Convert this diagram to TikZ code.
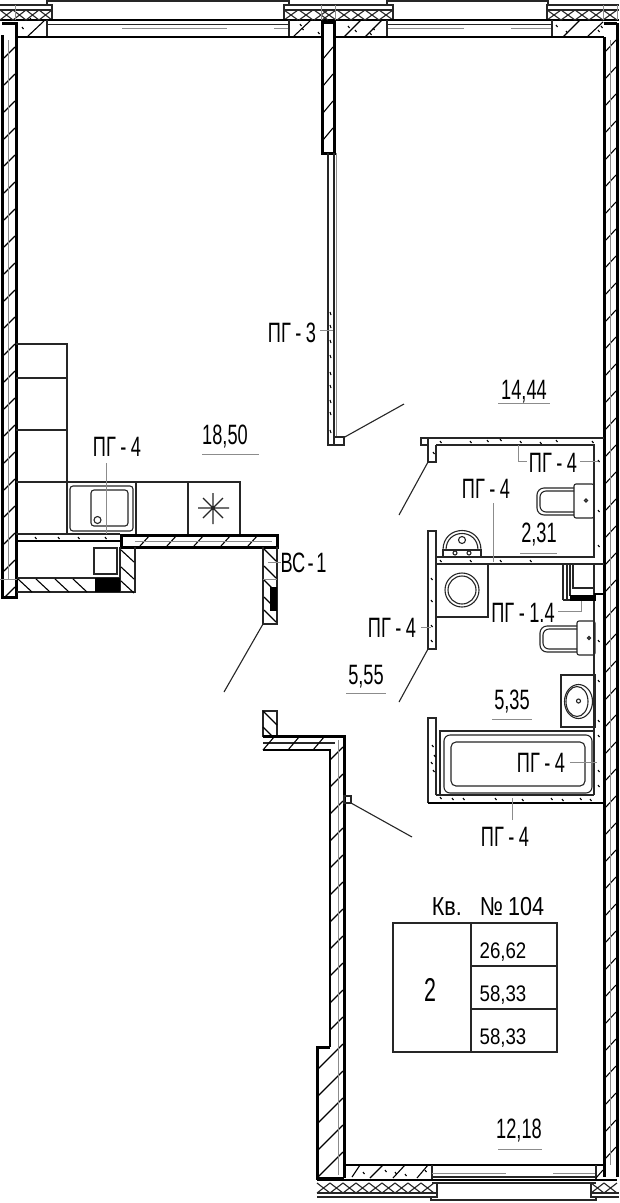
\documentclass[tikz,border=0pt]{standalone}
\usepackage{fontspec}
\setmainfont[FakeStretch=0.65]{Liberation Sans}
\newfontfamily\tablefont[FakeStretch=0.83]{Liberation Sans}
\tikzset{
    wallheavy/.style={draw=black,line width=3pt},
    wallmid/.style={draw=black,line width=1.5pt},
    wallthin/.style={draw=black!85,line width=1.1pt},
    hatchln/.style={draw=black,line width=1.1pt},
    leader/.style={draw=black!45,line width=0.9pt},
    txt/.style={font=\fontsize{28}{30}\selectfont,inner sep=0pt},
    txtsmall/.style={font=\tablefont\fontsize{22.5}{24}\selectfont,inner sep=0pt}
}
\newcommand{\PGdash}{\kern4.5pt-\kern4.5pt}
\begin{document}
\begin{tikzpicture}[x=1pt,y=-1pt]

    \useasboundingbox (0,0) rectangle (619,1203);
    \fill[white] (0,0) rectangle (619,1203);

    \draw[wallthin] (47,5) -- (47,1) -- (289,1) -- (289,5);
    \draw[wallthin] (0,5) -- (52,5) -- (52,20);
    \draw[wallthin] (284,20) -- (284,5) -- (393,5) -- (393,20);
    \draw[wallthin] (387,5) -- (387,1) -- (548,1) -- (548,5);
    \draw[wallthin] (547,20) -- (547,5) -- (619,5);
    \draw[wallthin] (0,10) -- (52,10) (284,10) -- (393,10) (547,10) -- (619,10);
    \draw[wallmid] (0,20) -- (52,20) (284,20) -- (393,20) (547,20) -- (619,20);
    \foreach \x in {0,13,26,39}
        \draw[wallthin] (\x,10) -- ++(13,10) (\x,20) -- ++(13,-10);
    \foreach \x in {284,299,314,322,337,351,365,379}
        \draw[wallthin] (\x,10) -- ++(14,10) (\x,20) -- ++(14,-10);
    \foreach \x in {547,561,575,589,603}
        \draw[wallthin] (\x,10) -- ++(14,10) (\x,20) -- ++(14,-10);
    \draw[leader] (15,5) -- (15,20) (321,5) -- (321,20) (335,5) -- (335,20) (603,5) -- (603,20) (617,5) -- (617,20);

    \draw[wallmid] (47,20) -- (289,20) (387,20) -- (552,20);
    \draw[wallthin] (47,24.5) -- (289,24.5) (387,24.5) -- (552,24.5);
    \draw[wallthin] (47,20) -- (47,37) (289,20) -- (289,37) (387,20) -- (387,37) (552,20) -- (552,37);
    \draw[leader] (122,28) -- (227,28) (274,28) -- (288,28) (388,28) -- (464,28) (511,28) -- (551,28);
    \draw[wallmid] (15,37) -- (321,37) (335,37) -- (604,37);
    \draw[hatchln] (27,37) -- (44,21) (293,37) -- (311,20) (344,37) -- (361,20) (365,37) -- (382,20) (563,37) -- (580,20) (587,37) -- (603,22);
    \foreach \x/\y in {22/27,30/18,300/24,302/28,318/32,355/30,348/26,370/33,373/28,556/25,566/31,601/26,598/30}
        \draw[hatchln] (\x,\y) -- ++(1.5,2);

    \draw[wallheavy] (2,35) -- (2,597) -- (16,597) -- (16,23) -- (2,23);
    \foreach \y in {47,74,...,590}
        \draw[hatchln] (4,\y+11) -- (15,\y);
    \draw[leader] (8,40) -- (8,580) (0,579) -- (17,579);

    \draw[wallheavy] (604,37) -- (604,1177) (617,23) -- (617,1177) (604,23) -- (617,23);
    \foreach \y in {40,67,...,1150}
        \draw[hatchln] (605,\y+12) -- (616,\y);
    \draw[leader] (610,40) -- (610,1165);

    \draw[wallheavy] (322,22) rectangle (334,153);
    \foreach \y in {47,74,101,128}
        \draw[hatchln] (323,\y+12) -- (333,\y);
    \draw[wallthin] (328,153) -- (328,445) -- (334,445) -- (334,153);
    \draw[leader] (336,153) -- (336,437);
    \draw[wallthin] (334,437) rectangle (344,445);
    \coordinate (doorAa) at (343,438);
    \coordinate (doorAb) at (404,404);
    \draw[wallthin] (doorAa) -- (doorAb);
    \foreach \y in {312,325,340,355,372,385,400,412,430}
        \draw[hatchln] (330,\y) -- ++(1,3);

    \draw[wallthin] (16,344) -- (67,344) -- (67,534);
    \draw[wallthin] (16,378) -- (67,378) (16,430) -- (67,430);
    \draw[wallthin] (16,482) -- (240,482) -- (240,534);
    \draw[wallthin] (136,482) -- (136,534) (188,482) -- (188,534);
    \draw[wallthin,rounded corners=3] (70,486) rectangle (133,531);
    \draw[wallthin,rounded corners=3] (91,490) rectangle (128,526);
    \draw[wallthin] (97.5,520) circle[radius=3.5];
    \draw[wallthin] (198,508) -- (229,508) (213,493) -- (213,524) (203,498) -- (223,518) (203,518) -- (223,498);

    \draw[wallthin] (16,534) -- (120,534);
    \draw[wallmid] (16,541) -- (120,541);
    \foreach \x in {35,58,78,105}
        \draw[hatchln] (\x,537) -- ++(1.5,2);

    \draw[wallheavy] (121,535) rectangle (277,547);
    \foreach \x in {140,167,194,221,248}
        \draw[hatchln] (\x,546) -- ++(10,-11);
    \draw[leader] (135,541) -- (272,541);

    \draw[wallthin] (17,578) -- (120,578) (17,592) -- (135,592) -- (135,547) (120,547) -- (120,592);
    \foreach \x in {18,36,55,73}
        \draw[hatchln] (\x,579) -- ++(14,13);
    \fill[black] (95,578) rectangle (120,592);
    \draw[wallthin] (94,548) rectangle (117,574);
    \foreach \y in {550,567,581}
        \draw[hatchln] (121,\y) -- (134,\y+12);

    \draw[wallthin] (263,547) -- (263,624) -- (277,624) -- (277,547);
    \foreach \y in {549,566,580,597,610}
        \draw[hatchln] (264,\y) -- (276,\y+12);
    \fill[black] (270,587) rectangle (277,611);
    \draw[leader] (263,579) -- (277,579);
    \coordinate (doorBa) at (263,624);
    \coordinate (doorBb) at (224,692);
    \draw[wallthin] (doorBa) -- (doorBb);

    \draw[wallthin] (263,711) rectangle (277,736);
    \draw[hatchln] (263,711) -- (277,725) (263,727) -- (272,736);
    \draw[wallheavy] (263,736) -- (344,736) -- (344,1178);
    \draw[wallmid] (263,750) -- (330,750) -- (330,1047);
    \draw[wallheavy] (330,1047) -- (317,1047) -- (317,1178) -- (344,1178);
    \draw[wallthin] (263,743) -- (335,743);
    \foreach \x in {263,288,313}
        \draw[hatchln] (\x,750) -- ++(11,-13);
    \foreach \y in {747,774,...,1017}
        \draw[hatchln] (330,\y+13) -- (343,\y);
    \foreach \y in {1044,1071,1098,1125,1152}
        \draw[hatchln] (318,\y+25) -- (343,\y);
    \draw[leader] (338,740) -- (338,1175);
    \draw[wallthin] (344,796) rectangle (351,803);
    \coordinate (doorCa) at (351,803);
    \coordinate (doorCb) at (412,837);
    \draw[wallthin] (doorCa) -- (doorCb);

    \draw[wallthin] (436,445) -- (594,445) -- (594,557) -- (436,557);
    \draw[wallthin] (428,445) -- (428,438) -- (604,438);
    \draw[wallthin] (421,438) rectangle (428,445);
    \draw[wallthin] (428,445) -- (428,462) -- (436,462) -- (436,445);
    \foreach \x/\y in {433/452,440/441,470/441,487/440,500/439,520/441,540/442,556/440,592/441,598/460,598/510,598/545,440/560,470/560,500/560,530/560}
        \draw[hatchln] (\x,\y) -- ++(1.5,2);
    \coordinate (doorDa) at (428,462);
    \coordinate (doorDb) at (399,515);
    \draw[wallthin] (doorDa) -- (doorDb);

    \draw[wallthin] (436,564) -- (604,564);
    \draw[wallthin] (594,564) -- (594,795);
    \draw[wallthin] (428,649) -- (428,531) -- (436,531) -- (436,649) -- (428,649);
    \draw[wallthin] (436,557) -- (436,564);
    \foreach \y in {578,600,625,640}
        \draw[hatchln] (431,\y) -- ++(1.5,2);
    \coordinate (doorEa) at (428,649);
    \coordinate (doorEb) at (399,702);
    \draw[wallthin] (doorEa) -- (doorEb);

    \draw[wallthin,rounded corners=2] (574,484) rectangle (594,518);
    \draw[wallthin,rounded corners=7] (574,488) -- (537,488) -- (537,515) -- (574,515);
    \draw[wallthin,rounded corners=6] (574,491) -- (540,491) -- (540,512) -- (574,512);
    \draw[wallthin] (586,500.5) circle[radius=1.5];

    \draw[wallthin] (443,550) rectangle (481,557);
    \draw[wallthin] (443,550) .. controls (443,524) and (481,524) .. (481,550);
    \draw[wallthin] (446,550) .. controls (446,528) and (478,528) .. (478,550);
    \draw[wallthin] (462,540) circle[radius=3.5];
    \draw[wallthin] (455,553) circle[radius=2] (469,553) circle[radius=2];

    \draw[wallthin] (436,564) rectangle (488,617);
    \draw[wallthin] (462,590) circle[radius=17] (462,590) circle[radius=14];

    \draw[wallthin] (563,564) -- (563,600) (567,564) -- (567,600) (570,564) -- (570,596);
    \draw[wallthin] (573,564) -- (573,588) -- (594,588);
    \fill[black] (570,595) rectangle (596,601);
    \draw[wallthin] (563,600) -- (570,600);
    \draw[wallmid] (594,594) -- (604,594);

    \draw[wallthin,rounded corners=2] (577,621) rectangle (595,655);
    \draw[wallthin,rounded corners=7] (577,626) -- (540,626) -- (540,652) -- (577,652);
    \draw[wallthin,rounded corners=6] (577,629) -- (543,629) -- (543,649) -- (577,649);
    \draw[wallthin] (589,638) circle[radius=1.5];

    \draw[wallthin] (561,675) rectangle (595,727);
    \draw[wallthin] (578.5,701.5) ellipse[x radius=14,y radius=17];
    \draw[wallthin] (577,701.5) ellipse[x radius=11,y radius=15];
    \draw[wallthin] (578.5,701) circle[radius=2];

    \draw[wallthin] (440,795) -- (440,731) -- (594,731);
    \draw[wallthin,rounded corners=6] (444,735) rectangle (592,793);
    \draw[wallthin,rounded corners=5] (451,742) rectangle (585,786);
    \draw[wallthin] (436,795) -- (436,718) -- (428,718) -- (428,803);
    \draw[wallthin] (436,795) -- (594,795);
    \draw[wallmid] (428,803) -- (604,803);
    \foreach \x/\y in {432/745,434/755,431/762,433/770,440/797,452/798,463/798,495/798,522/799,551/798,562/799,580/798,590/799,598/735,598/770,598/785,598/640,598/680,598/720}
        \draw[hatchln] (\x,\y) -- ++(1.5,2);

    \draw[wallmid] (344,1165) -- (604,1165);
    \draw[wallthin] (432,1165) -- (432,1180) (596,1165) -- (596,1180);
    \draw[leader] (432,1173) -- (506,1173) (553,1173) -- (595,1173);
    \draw[wallmid] (317,1180) -- (617,1180);
    \draw[wallthin] (432,1177) -- (596,1177) (432,1183) -- (596,1183);
    \draw[hatchln] (352,1177) -- (360,1165) (370,1178) -- (383,1165) (393,1178) -- (405,1165) (417,1178) -- (428,1165) (596,1178) -- (603,1170);
    \foreach \x/\y in {363/1172,385/1170,395/1172,405/1174,425/1170}
        \draw[hatchln] (\x,\y) -- ++(1.5,2);
    \draw[wallthin] (317,1193) -- (437,1193) -- (437,1183) (591,1183) -- (591,1193) -- (619,1193);
    \draw[wallthin] (317,1197) -- (437,1197) -- (437,1183) (591,1183) -- (591,1197) -- (619,1197);
    \draw[wallthin] (431,1197) -- (431,1200) -- (596,1200) -- (596,1197);
    \foreach \x in {317,330,343,356,369,382,395,408,421}
        \draw[wallthin] (\x,1183) -- ++(13,10) (\x,1193) -- ++(13,-10);
    \foreach \x in {591,604}
        \draw[wallthin] (\x,1183) -- ++(13,10) (\x,1193) -- ++(13,-10);

    \node[txt] (PGki) at (117,447) {ПГ\PGdash 4};
    \node[txt] (PGwc) at (553,463) {ПГ\PGdash 4};
    \node[txt] (PGmi) at (486,489) {ПГ\PGdash 4};
    \node[txt] (PGle) at (392,628) {ПГ\PGdash 4};
    \node[txt] (PGba) at (541,763) {ПГ\PGdash 4};
    \node[txt] (PGbo) at (505,837) {ПГ\PGdash 4};
    \node[txt] (PGth) at (292,333) {ПГ\PGdash 3};
    \node[txt] (PGsh) at (523,613) {ПГ\PGdash 1.4};
    \node[txt] (BC) at (303.5,563) {ВС\kern2.5pt-\kern2.5pt 1};

    \node[txt] (Akit) at (225,437) {18,50};
    \node[txt] (Aroo) at (524,392) {14,44};
    \node[txt] (Awc) at (539,535) {2,31};
    \node[txt] (Ahal) at (366,677) {5,55};
    \node[txt] (Abat) at (512,702) {5,35};
    \node[txt] (Abal) at (519,1131) {12,18};

    \coordinate (ulKa) at (202,454);
    \coordinate (ulKb) at (259,454);
    \coordinate (ulRa) at (498,403);
    \coordinate (ulRb) at (550,403);
    \coordinate (ulWa) at (520,553);
    \coordinate (ulWb) at (557,553);
    \coordinate (ulHa) at (346,693);
    \coordinate (ulHb) at (386,693);
    \coordinate (ulBa) at (492,719);
    \coordinate (ulBb) at (532,719);
    \coordinate (ulLa) at (498,1149);
    \coordinate (ulLb) at (542,1149);
    \draw[leader] (ulKa) -- (ulKb);
    \draw[leader] (ulRa) -- (ulRb);
    \draw[leader] (ulWa) -- (ulWb);
    \draw[leader] (ulHa) -- (ulHb);
    \draw[leader] (ulBa) -- (ulBb);
    \draw[leader] (ulLa) -- (ulLb);

    \coordinate (ldKi) at (106,534);
    \coordinate (ldKt) at (106,463);
    \coordinate (ldWa) at (518,445);
    \coordinate (ldWb) at (518,461);
    \coordinate (ldWc) at (527,461);
    \coordinate (ldWd) at (580,461);
    \coordinate (ldWe) at (598,461);
    \coordinate (ldMa) at (493,503);
    \coordinate (ldMb) at (493,562);
    \coordinate (ldSa) at (558,611);
    \coordinate (ldSb) at (581,611);
    \coordinate (ldSc) at (581,601);
    \coordinate (ldLa) at (421,627);
    \coordinate (ldLb) at (431,627);
    \coordinate (ldBa) at (570,762);
    \coordinate (ldBb) at (597,762);
    \coordinate (ldOa) at (512,798);
    \coordinate (ldOb) at (512,820);
    \coordinate (ldTa) at (320,330);
    \coordinate (ldTb) at (333,330);
    \coordinate (ldVa) at (268,562);
    \coordinate (ldVb) at (281,562);
    \draw[leader] (ldKt) -- (ldKi);
    \draw[leader] (ldWa) -- (ldWb) -- (ldWc);
    \draw[leader] (ldWd) -- (ldWe);
    \draw[leader] (ldMa) -- (ldMb);
    \draw[leader] (ldSa) -- (ldSb) -- (ldSc);
    \draw[leader] (ldLa) -- (ldLb);
    \draw[leader] (ldBa) -- (ldBb);
    \draw[leader] (ldOa) -- (ldOb);
    \draw[leader] (ldTa) -- (ldTb);
    \draw[leader] (ldVa) -- (ldVb);

    \node[txt,font=\tablefont\fontsize{26}{28}\selectfont] (Flat) at (488,907) {Кв.\kern18pt №\kern5pt 104};
    \draw[wallthin] (393,923) rectangle (557,1052);
    \draw[wallthin] (471,923) -- (471,1052);
    \draw[wallthin] (471,966) -- (557,966) (471,1009) -- (557,1009);
    \node[txt,font=\fontsize{33}{35}\selectfont] (Rooms) at (430,990) {2};
    \node[txtsmall] (Liv) at (503,952) {26,62};
    \node[txtsmall] (Tot) at (503,995) {58,33};
    \node[txtsmall] (Sum) at (503,1038) {58,33};

\end{tikzpicture}
\end{document}
